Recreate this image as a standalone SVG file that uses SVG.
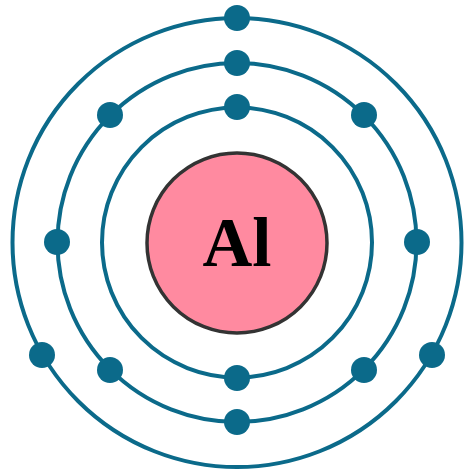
<svg xmlns="http://www.w3.org/2000/svg" width="474" height="474" viewBox="0 0 474 474">
<style>
.shell{fill:none;stroke:#0b6a8a;stroke-width:4}
.e{fill:#0b6a8a}
.nuc{fill:#ff8aa0;stroke:#333;stroke-width:3.5}
.lbl{font-family:"Liberation Serif",serif;font-weight:bold;font-size:69px;fill:#000}
</style>
<rect width="474" height="474" fill="#fff"/>
<g id="shells">
<circle class="shell" cx="237" cy="242.5" r="135"/>
<circle class="shell" cx="237" cy="242.5" r="179.5"/>
<circle class="shell" cx="237" cy="242.5" r="224.5"/>
</g>
<g id="nucleus">
<circle class="nuc" cx="237" cy="243" r="90"/>
<text class="lbl" x="237" y="266" text-anchor="middle">Al</text>
</g>
<g id="electrons">
<circle class="e" cx="237" cy="107" r="13"/>
<circle class="e" cx="237" cy="378" r="13"/>
<circle class="e" cx="237" cy="63" r="13"/>
<circle class="e" cx="364" cy="115" r="13"/>
<circle class="e" cx="417" cy="242" r="13"/>
<circle class="e" cx="364" cy="370" r="13"/>
<circle class="e" cx="237" cy="422" r="13"/>
<circle class="e" cx="110" cy="370" r="13"/>
<circle class="e" cx="57" cy="242" r="13"/>
<circle class="e" cx="110" cy="115" r="13"/>
<circle class="e" cx="237" cy="18" r="13"/>
<circle class="e" cx="432" cy="355" r="13"/>
<circle class="e" cx="42" cy="355" r="13"/>
</g>
</svg>
